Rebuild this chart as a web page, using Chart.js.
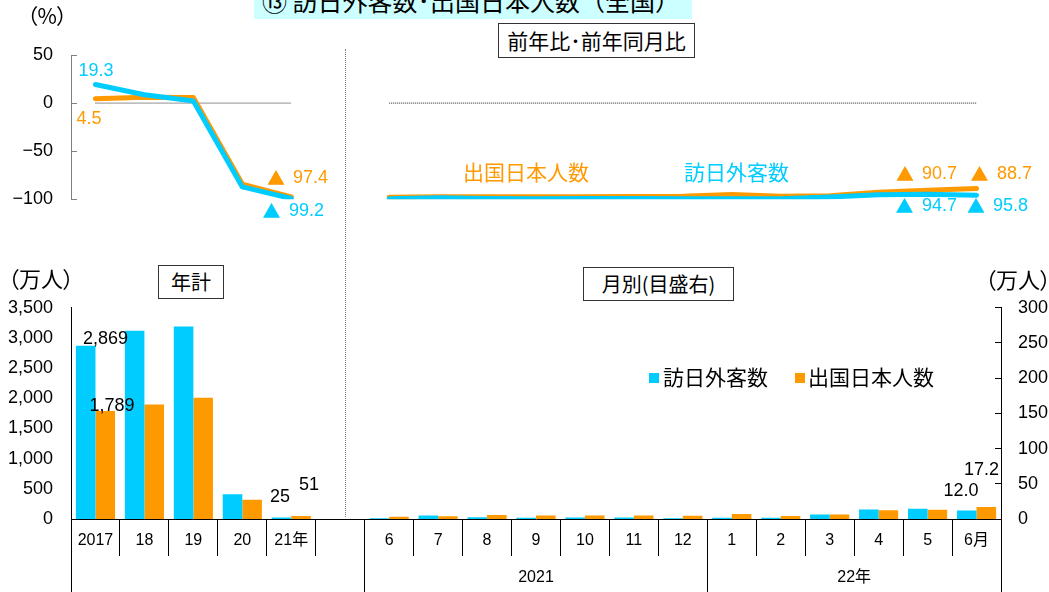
<!DOCTYPE html>
<html lang="ja"><head><meta charset="utf-8">
<script src="https://cdn.jsdelivr.net/npm/chart.js@4.4.1/dist/chart.umd.min.js"></script>
<style>
html,body{margin:0;padding:0;background:#fff;}
#wrap{position:relative;width:1049px;height:592px;overflow:hidden;font-family:"Noto Sans CJK JP",sans-serif;font-feature-settings:"palt";color:#000;}
canvas{position:absolute;left:0;}
.t{position:absolute;white-space:nowrap;line-height:1;}
.box{position:absolute;box-sizing:border-box;border:1px solid #333;background:#fff;display:flex;align-items:center;justify-content:center;line-height:1;white-space:nowrap;}
.sq{position:absolute;width:10px;height:10px;}
</style></head><body><div id="wrap">
<canvas id="cTop" width="1049" height="250" style="top:0;width:1049px;height:250px"></canvas>
<canvas id="cBot" width="1049" height="342" style="top:250px;width:1049px;height:342px"></canvas>
<div style="position:absolute;left:345px;top:49px;height:468px;border-left:1px dotted #777;"></div>
<div class="t" style="left:254px;top:-20px;width:438px;height:39px;background:#ccffff;"></div>
<div class="t" style="left:262px;top:-12.5px;font-size:25px;font-feature-settings:normal;">⑬ 訪日外客数･出国日本人数（全国）</div>
<div class="box" style="left:498px;top:23px;width:197px;height:35px;font-size:21px;">前年比･前年同月比</div>
<div class="box" style="left:158px;top:265px;width:66px;height:34px;font-size:20px;">年計</div>
<div class="box" style="left:583px;top:267px;width:151px;height:34px;font-size:20px;">月別(目盛右)</div>
<div class="t" style="left:27px;top:5px;font-size:21px;">（%）</div>
<div class="t" style="left:8px;top:266px;font-size:22px;">（万人）</div>
<div class="t" style="left:985px;top:267px;font-size:22px;">（万人）</div>
<div class="t" style="left:463px;top:161px;font-size:21px;color:#FF9900;">出国日本人数</div>
<div class="t" style="left:684px;top:161px;font-size:21px;color:#00CCFF;">訪日外客数</div>
<div class="sq" style="left:649px;top:373px;background:#00CCFF;"></div>
<div class="t" style="left:663px;top:366px;font-size:21px;">訪日外客数</div>
<div class="sq" style="left:795px;top:373px;background:#FF9900;"></div>
<div class="t" style="left:808px;top:366px;font-size:21px;">出国日本人数</div>
</div>
<script>
// ---- data ----
const categories = ['2017','18','19','20','21年','','6','7','8','9','10','11','12','1','2','3','4','5','6月'];
const yearGroupLabels = ['2021','22年'];
const yearGroupFirst = [6, 13];
const yearGroupLast = [12, 18];
const annualVisitors = [2869, 3119, 3188, 412, 25];
const annualOutbound = [1789, 1895, 2008, 317, 51];
const monthlyVisitors = [0.9, 5.1, 2.6, 1.8, 2.2, 2.1, 1.2, 1.7, 1.7, 6.3, 13.6, 14.7, 12.0];
const monthlyOutbound = [3.1, 3.8, 5.6, 4.8, 4.8, 4.8, 4.5, 7.2, 4.4, 6.5, 12.4, 13.0, 17.2];
const annualVisitorsYoY = [19.3, 8.7, 2.2, -87.1, -99.2];
const annualOutboundYoY = [4.5, 6.0, 5.9, -84.2, -97.4];
const monthlyVisitorsYoY = [-99.5, -98.4, -99.1, -99.3, -99.1, -99.1, -99.4, -99.3, -99.4, -97.6, -95.2, -94.7, -95.8];
const monthlyOutboundYoY = [-97.8, -97.3, -97.3, -97.4, -97.3, -97.0, -96.8, -95.0, -96.7, -96.4, -92.7, -90.7, -88.7];
const pctTicks = {min: -100, max: 50, step: 50};
const leftTicks = {min: 0, max: 3500, step: 500};
const rightTicks = {min: 0, max: 300, step: 50};

// ---- derived ----
const nGap = categories.length - annualVisitors.length - monthlyVisitors.length; // 1
const padY = (arr) => arr.concat(Array(categories.length - arr.length).fill(null));
const padM = (arr) => Array(categories.length - arr.length).fill(null).concat(arr);
const lineVis = annualVisitorsYoY.concat(Array(nGap).fill(null), monthlyVisitorsYoY);
const lineOut = annualOutboundYoY.concat(Array(nGap).fill(null), monthlyOutboundYoY);
const zeroLine = categories.map(c => c === '' ? null : 0);

const BLUE = '#00CCFF', ORANGE = '#FF9900';
const NUMFONT = '"Liberation Sans","Noto Sans CJK JP",sans-serif';
const CJKFONT = '"Noto Sans CJK JP",sans-serif';
Chart.defaults.font.family = NUMFONT;
Chart.defaults.color = '#000';

const ap = (x) => Math.round(x - 0.5) + 0.5;

// ---- top chart (YoY lines) ----
const topLabelSpecs = [
  {ds: 1, i: 0, dx: 0.5, dy: -13.5},
  {ds: 0, i: 0, dx: -6.5, dy: 20.7},
  {ds: 0, i: 4, tdx: -15.3, dx: 1.7, dy: -18.3},
  {ds: 1, i: 4, tdx: -19.8, dx: -2.3, dy: 12.5},
  {ds: 0, i: 17, tdx: -22.6, dx: -5.6, dy: -15.9},
  {ds: 0, i: 18, tdx: 3, dx: 20.5, dy: -13.9},
  {ds: 1, i: 17, tdx: -23.1, dx: -5.6, dy: 11.8},
  {ds: 1, i: 18, tdx: -0.5, dx: 16.5, dy: 10.7}
];
const topPlugin = {
  id: 'topDeco',
  afterDatasetsDraw(chart) {
    const ctx = chart.ctx, ys = chart.scales.y, ca = chart.chartArea;
    ctx.save();
    ctx.strokeStyle = '#808080'; ctx.lineWidth = 1;
    ys.ticks.forEach(t => {
      const py = ap(ys.getPixelForValue(t.value));
      ctx.beginPath(); ctx.moveTo(ca.left, py); ctx.lineTo(ca.left + 6, py); ctx.stroke();
    });
    ctx.textBaseline = 'middle';
    topLabelSpecs.forEach(s => {
      const pt = chart.getDatasetMeta(s.ds).data[s.i];
      const v = chart.data.datasets[s.ds].data[s.i];
      ctx.fillStyle = s.ds === 0 ? ORANGE : BLUE;
      if (v < 0) {
        ctx.font = '18px ' + CJKFONT; ctx.textAlign = 'center';
        ctx.fillText('▲', pt.x + s.tdx, pt.y + s.dy);
        ctx.font = '18px ' + NUMFONT; ctx.textAlign = 'left';
        ctx.fillText(Math.abs(v).toFixed(1), pt.x + s.dx, pt.y + s.dy);
      } else {
        ctx.font = '18px ' + NUMFONT; ctx.textAlign = 'center';
        ctx.fillText(v.toFixed(1), pt.x + s.dx, pt.y + s.dy);
      }
    });
    ctx.restore();
  }
};

new Chart(document.getElementById('cTop'), {
  type: 'line',
  data: {
    labels: categories,
    datasets: [
      {label: '出国日本人数', data: lineOut, borderColor: ORANGE, borderWidth: 5, pointRadius: 0, tension: 0, spanGaps: false, borderCapStyle: 'round', borderJoinStyle: 'round', order: 2},
      {label: '訪日外客数', data: lineVis, borderColor: BLUE, borderWidth: 5, pointRadius: 0, tension: 0, spanGaps: false, borderCapStyle: 'round', borderJoinStyle: 'round', order: 1},
      {label: 'zero', data: zeroLine, borderColor: '#222', borderWidth: 1, borderDash: [1, 1], pointRadius: 0, spanGaps: false, order: 3}
    ]
  },
  options: {
    responsive: false, animation: false, devicePixelRatio: 1,
    layout: {padding: {top: 55, bottom: 50.7, left: 0, right: 48}},
    plugins: {legend: {display: false}, tooltip: {enabled: false}},
    scales: {
      x: {type: 'category', offset: true, display: false},
      y: {
        min: pctTicks.min, max: pctTicks.max,
        ticks: {stepSize: pctTicks.step, font: {size: 18, family: NUMFONT}, color: '#000', padding: 18,
          callback: (v) => String(v).replace('-', '−')},
        grid: {display: false, drawTicks: false},
        border: {display: true, color: '#808080', width: 1},
        afterFit: (s) => { s.width = 71; }
      }
    }
  },
  plugins: [topPlugin]
});

// ---- bottom chart (bars) ----
const barLabelSpecs = [
  {ds: 0, i: 0, dx: 19.8, dy: -6.3},
  {ds: 1, i: 0, dx: 6.7, dy: -5},
  {ds: 0, i: 4, dx: -1.5, dy: -20},
  {ds: 1, i: 4, dx: 7.9, dy: -30.4},
  {ds: 2, i: 18, dx: -5.7, dy: -19.1, dec: 1},
  {ds: 3, i: 18, dx: -4.8, dy: -36.4, dec: 1}
];
const botPlugin = {
  id: 'botDeco',
  afterDraw(chart) {
    const ctx = chart.ctx, xs = chart.scales.x, y2 = chart.scales.y2, ca = chart.chartArea, H = chart.height;
    ctx.save();
    ctx.strokeStyle = '#000'; ctx.lineWidth = 1;
    const line = (x1, y1, x2, y2_) => { ctx.beginPath(); ctx.moveTo(x1, y1); ctx.lineTo(x2, y2_); ctx.stroke(); };
    const half = (xs.getPixelForValue(1) - xs.getPixelForValue(0)) / 2;
    const longAfter = [yearGroupFirst[0] - 1, yearGroupFirst[1] - 1];
    for (let i = 0; i < categories.length - 1; i++) {
      const bx = ap(xs.getPixelForValue(i) + half);
      line(bx, ca.bottom, bx, longAfter.includes(i) ? H : ca.bottom + 37);
    }
    line(ap(ca.left), ca.bottom, ap(ca.left), H);
    line(ap(ca.right), ca.bottom, ap(ca.right), H);
    y2.ticks.forEach(t => {
      const py = ap(y2.getPixelForValue(t.value));
      line(ca.right - 6, py, ca.right, py);
    });
    ctx.fillStyle = '#000'; ctx.textAlign = 'center'; ctx.textBaseline = 'middle';
    ctx.font = '16px ' + NUMFONT;
    yearGroupLabels.forEach((lab, k) => {
      const x1 = xs.getPixelForValue(yearGroupFirst[k]) - half;
      const x2 = xs.getPixelForValue(yearGroupLast[k]) + half;
      ctx.fillText(lab, (x1 + x2) / 2, ca.bottom + 58.5);
    });
    ctx.font = '18px ' + NUMFONT;
    barLabelSpecs.forEach(s => {
      const el = chart.getDatasetMeta(s.ds).data[s.i];
      const v = chart.data.datasets[s.ds].data[s.i];
      const txt = s.dec ? v.toFixed(s.dec) : v.toLocaleString('en-US');
      ctx.fillText(txt, el.x + s.dx, el.y + s.dy);
    });
    ctx.restore();
  }
};

const barCommon = {borderWidth: 0, categoryPercentage: 0.8, barPercentage: 1.0};
new Chart(document.getElementById('cBot'), {
  type: 'bar',
  data: {
    labels: categories,
    datasets: [
      Object.assign({label: '訪日外客数', data: padY(annualVisitors), backgroundColor: BLUE, yAxisID: 'y', stack: 'v'}, barCommon),
      Object.assign({label: '出国日本人数', data: padY(annualOutbound), backgroundColor: ORANGE, yAxisID: 'y', stack: 'o'}, barCommon),
      Object.assign({label: '訪日外客数(月)', data: padM(monthlyVisitors), backgroundColor: BLUE, yAxisID: 'y2', stack: 'v'}, barCommon),
      Object.assign({label: '出国日本人数(月)', data: padM(monthlyOutbound), backgroundColor: ORANGE, yAxisID: 'y2', stack: 'o'}, barCommon)
    ]
  },
  options: {
    responsive: false, animation: false, devicePixelRatio: 1,
    layout: {padding: {top: 57.7, bottom: 0, left: 0, right: 0}},
    plugins: {legend: {display: false}, tooltip: {enabled: false}},
    scales: {
      x: {
        type: 'category', offset: true,
        grid: {display: false, drawTicks: false},
        border: {display: true, color: '#000', width: 1},
        ticks: {font: {size: 16, family: NUMFONT}, color: '#000', padding: 12, maxRotation: 0, autoSkip: false},
        afterFit: (s) => { s.height = 73; }
      },
      y: {
        position: 'left', min: leftTicks.min, max: leftTicks.max, stacked: false,
        ticks: {stepSize: leftTicks.step, font: {size: 18, family: NUMFONT}, color: '#000', padding: 18,
          callback: (v) => Number(v).toLocaleString('en-US')},
        grid: {display: false, drawTicks: false},
        border: {display: true, color: '#000', width: 1},
        afterFit: (s) => { s.width = 71; }
      },
      y2: {
        position: 'right', min: rightTicks.min, max: rightTicks.max, stacked: false,
        ticks: {stepSize: rightTicks.step, font: {size: 18, family: NUMFONT}, color: '#000', padding: 17},
        grid: {display: false, drawTicks: false},
        border: {display: true, color: '#000', width: 1},
        afterFit: (s) => { s.width = 48; }
      }
    }
  },
  plugins: [botPlugin]
});
</script>
</body></html>
